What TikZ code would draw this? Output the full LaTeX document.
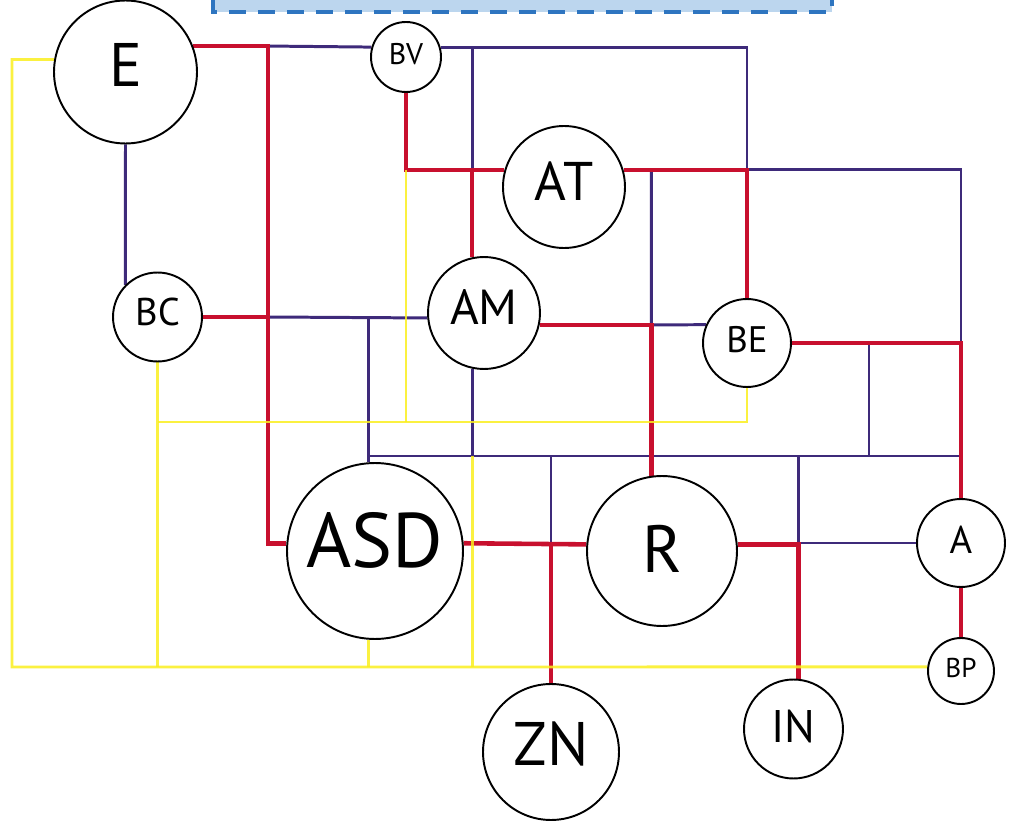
\documentclass[tikz,border=0pt]{standalone}
\usepackage{fontspec}
\setmainfont{PT Sans}
\usetikzlibrary{backgrounds}
\definecolor{linkred}{RGB}{200,16,46}
\definecolor{linkpurple}{RGB}{62,42,122}
\definecolor{linkyellow}{RGB}{250,238,30}
\definecolor{boxblue}{RGB}{188,214,238}
\definecolor{boxedge}{RGB}{46,117,192}
\begin{document}
\begin{tikzpicture}[x=0.02cm, y=-0.02cm,
  bub/.style={draw, circle, line width=1.1pt, inner sep=0pt, fill=white},
  redl/.style={draw=linkred, line width=2.6pt},
  purl/.style={draw=linkpurple, line width=1.7pt},
  yell/.style={draw=linkyellow, line width=1.6pt, draw opacity=0.85}]
\useasboundingbox (0,0) rectangle (1009,821);

\node[bub, minimum size=2.86cm, text depth=0.3cm, font=\fontsize{35}{35}\selectfont] (E) at (125.5,72) {E};
\node[bub, minimum size=1.40cm, text depth=0.14cm, font=\fontsize{17}{17}\selectfont] (BV) at (406,57) {BV};
\node[bub, minimum size=2.44cm, text depth=0.24cm, font=\fontsize{31}{31}\selectfont] (AT) at (564,187) {AT};
\node[bub, minimum size=1.78cm, text depth=0.22cm, font=\fontsize{22}{22}\selectfont] (BC) at (157.5,317) {BC};
\node[bub, minimum size=2.24cm, text depth=0.22cm, font=\fontsize{28}{28}\selectfont] (AM) at (484,313) {AM};
\node[bub, minimum size=1.76cm, text depth=0.16cm, font=\fontsize{21}{21}\selectfont] (BE) at (747,343) {BE};
\node[bub, minimum size=3.52cm, text depth=0.44cm, font=\fontsize{44}{44}\selectfont] (ASD) at (375,551) {ASD};
\node[bub, minimum size=3.00cm, text depth=0.10cm, font=\fontsize{38}{38}\selectfont] (R) at (662,551) {R};
\node[bub, minimum size=1.76cm, text depth=0.12cm, font=\fontsize{22}{22}\selectfont] (A) at (961,543) {A};
\node[bub, minimum size=1.32cm, text depth=0.14cm, font=\fontsize{15.5}{15.5}\selectfont] (BP) at (961,671) {BP};
\node[bub, minimum size=2.72cm, text depth=0.32cm, font=\fontsize{35}{35}\selectfont] (ZN) at (551,752) {ZN};
\node[bub, minimum size=1.98cm, text depth=0.12cm, font=\fontsize{26}{26}\selectfont] (IN) at (793.5,729) {IN};

\coordinate (ja) at (268,47);
\coordinate (ymid) at (406,422);
\coordinate (ycorner) at (12,667);
\coordinate (bus) at (369,456);
\coordinate (tap) at (869,456);

\begin{scope}[on background layer]
\fill[boxblue] (213,-30) rectangle (832,12);
\draw[boxedge, line width=2.3pt, dash pattern=on 0.34cm off 0.24cm] (213,-30) -- (213,12) -- (832,12) -- (832,-30);

\draw[purl] (E.21 -| ja) -- (BV.164);
\draw[purl] (BV.16) -| (BE.north |- AT.16);
\draw[purl] (AM.102 |- BV.16) -- (AM.102 |- AT.164);
\draw[purl] (E.south) -- (BC.north west);
\draw[purl] (BC.east -| ja) -- (AM.185);
\draw[purl] (ASD.94) -- (ASD.94 |- AM.185);
\draw[purl] (bus) -- (bus -| A.north);
\draw[purl] (AM.258) -- (AM.258 |- bus);
\draw[purl] (AT.16 -| R.98) -- (AM.-12 -| R.98) -- (BE.156);
\draw[purl] (BE.north |- AT.16) -- (A.north |- AT.16) -- (A.north |- BE.east);
\draw[purl] (tap) -- (tap |- BE.east);
\draw[purl] (ZN.north |- bus) -- (ZN.north |- R.175);
\draw[purl] (IN.84 |- bus) -- (IN.84 |- A.west) -- (A.west);

\draw[redl] (E.21) -- (E.21 -| ja) |- (ASD.175);
\draw[redl] (BC.east) -- (BC.east -| ja);
\draw[redl] (BV.south) |- (AT.164);
\draw[redl] (AM.102) -- (AM.102 |- AT.164);
\draw[redl] (AT.16) -| (BE.north);
\draw[redl] (AM.-12) -| (R.98);
\draw[redl] (BE.east) -| (A.north);
\draw[redl] (ASD.5) -- (R.175);
\draw[redl] (ZN.north) -- (ZN.north |- R.175);
\draw[redl] (R.5) -| (IN.84);
\draw[redl] (A.south) -- (BP.north);

\draw[yell] (E.170) -| (ycorner) -- (BP.173);
\draw[yell] (BC.south) -- (BC.south |- ycorner);
\draw[yell] (ASD.266) -- (ASD.266 |- ycorner);
\draw[yell] (AM.258 |- bus) -- (AM.258 |- ycorner);
\draw[yell] (BE.south) |- (ymid) -- (ymid -| BC.south);
\draw[yell] (BV.south |- AT.164) -- (ymid);
\end{scope}
\end{tikzpicture}
\end{document}
